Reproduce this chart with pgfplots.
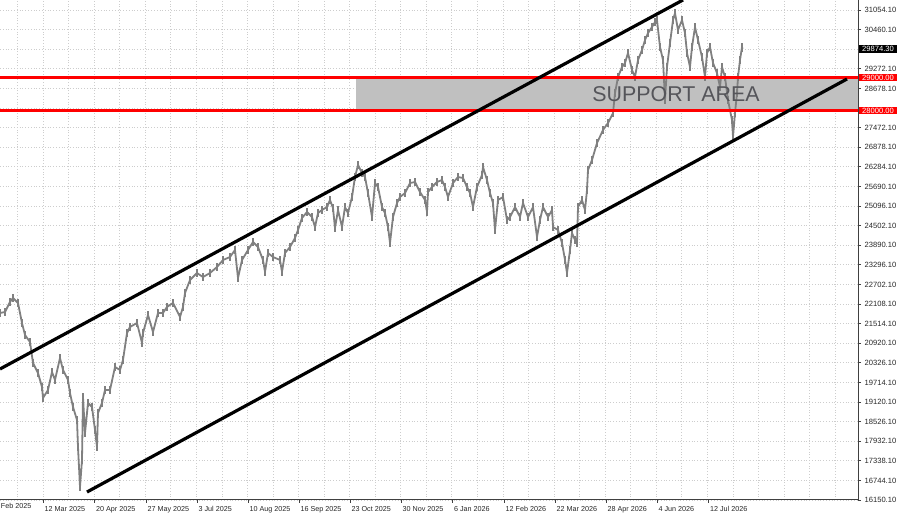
\documentclass[border=0pt]{standalone}
\usepackage{fontspec}
\setmainfont{Liberation Sans}
\usepackage{pgfplots}
\pgfplotsset{compat=1.18}

\definecolor{bargray}{RGB}{128,128,128}
\definecolor{zonegray}{RGB}{192,192,192}
\definecolor{gridgray}{RGB}{205,205,205}
\definecolor{mtred}{RGB}{255,0,0}
\definecolor{zonetext}{RGB}{85,85,90}

\begin{document}
\begin{tikzpicture}
\begin{axis}[
    scale only axis,
    width=429pt, height=250pt,
    xmin=0, xmax=858,
    ymin=16150, ymax=31360,
    axis x line=bottom, axis y line=right,
    axis line style={-, black!75, line width=0.5pt},
    tick align=outside,
    major tick length=1.5pt,
    minor tick length=0pt,
    tick style={black!75, line width=0.4pt},
    xtick={43,94.5,146,197,248,299,350,401,452.5,504,555,606,657,708.5},
    xticklabels={12 Mar 2025,20 Apr 2025,27 May 2025,3 Jul 2025,10 Aug 2025,16 Sep 2025,23 Oct 2025,30 Nov 2025,6 Jan 2026,12 Feb 2026,22 Mar 2026,28 Apr 2026,4 Jun 2026,12 Jul 2026},
    minor xtick={17.5,43.05,...,850},
    ytick={16150.1,16746.3,17342.4,17938.6,18534.7,19130.9,19727.1,20323.2,20919.4,21515.5,22111.7,22707.9,23304.0,23900.2,24496.3,25092.5,25688.7,26284.8,26881.0,27477.1,28073.3,28669.5,29265.6,29861.8,30457.9,31054.1},
    yticklabels={16150.10,16744.10,17338.10,17932.10,18526.10,19120.10,19714.10,20326.10,20920.10,21514.10,22108.10,22702.10,23296.10,23890.10,24502.10,25096.10,25690.10,26284.10,26878.10,27472.10,,28678.10,29272.10,,30460.10,31054.10},
    xminorgrids=true, xmajorgrids=false, ymajorgrids=true,
    grid style={gridgray, densely dotted, line width=0.4pt},
    minor grid style={gridgray, densely dotted, line width=0.4pt},
    xticklabel style={font=\fontsize{3.6}{4}\selectfont, anchor=north west, inner sep=0pt, xshift=0.6pt, yshift=-1.6pt, text=black!85},
    yticklabel style={font=\fontsize{3.8}{4}\selectfont, anchor=west, inner sep=0pt, xshift=1.6pt, text=black!85},
    clip=true,
]
% support zone
\fill[zonegray] (axis cs:356,28000) rectangle (axis cs:858,29000);

% price path (pixel-column index, price)
\addplot[bargray, line width=0.9pt, line join=round,
    error bars/.cd, y dir=both, y fixed=110,
    error bar style={bargray, line width=0.9pt}, error mark=none] coordinates {
(0,21839) (5,21869) (10,22173) (13,22295) (18,22143) (22,21534) (25,21169)
(30,20956) (33,20318) (38,20013) (42,19588) (43,19253) (48,19497) (52,20044)
(55,19801) (60,20470) (63,20105) (68,19801) (70,19405) (73,18979) (77,18584)
(78,17762) (80,16546) (82,17367) (83,19283) (85,18188) (88,19101) (92,18979)
(95,18280) (97,17762) (98,18797) (102,19101) (105,19497) (110,19497) (115,20196)
(120,20105) (123,20409) (127,21230) (130,21413) (137,21534) (142,20926) (143,21230)
(148,21778) (153,21261) (158,21839) (163,21839) (167,22021) (173,22143) (180,21717)
(183,22021) (185,22447) (190,22842) (197,23055) (203,22933) (210,23055) (217,23238)
(223,23450) (230,23542) (235,23755) (238,22903) (242,23450) (248,23755) (253,23998)
(258,23846) (263,23450) (265,23085) (268,23663) (273,23542) (280,23450) (282,23085)
(285,23663) (290,23846) (295,24120) (298,24363) (302,24728) (307,24911) (312,24759)
(315,24454) (318,24880) (322,24971) (327,25062) (330,25276) (333,25032) (335,24424)
(338,24971) (342,24454) (345,25062) (348,24880) (352,25367) (355,25975) (358,26340)
(362,26097) (365,25975) (368,25488) (372,24759) (375,25792) (378,25671) (382,25062)
(385,24880) (388,24454) (390,23968) (393,24759) (397,25184) (400,25367) (405,25488)
(410,25792) (415,25823) (420,25519) (425,25276) (427,24911) (428,25519) (432,25671)
(437,25823) (442,25884) (445,25671) (448,25367) (453,25792) (458,25975) (463,25945)
(467,25671) (470,25488) (473,25062) (477,25671) (482,26036) (483,26279) (487,25884)
(490,25488) (493,25184) (495,24363) (498,25276) (503,25367) (507,24667) (510,24759)
(515,25062) (520,24759) (523,25184) (528,24759) (533,25062) (537,24150) (540,24667)
(543,25062) (548,24759) (552,24971) (553,24454) (558,24363) (562,23968) (565,23451)
(567,23055) (570,23755) (572,24272) (575,24059) (577,23968) (578,25062) (582,25276)
(585,24971) (587,25580) (588,26188) (592,26492) (597,27009) (603,27405) (608,27617)
(613,27921) (615,28530) (618,29017) (622,29321) (625,29443) (628,29747) (632,29230)
(635,29017) (638,29534) (642,29838) (645,30142) (648,30355) (652,30537) (655,30690)
(657,30750) (660,29929) (663,29534) (665,28317) (667,29321) (670,30051) (673,30750)
(675,30963) (678,30446) (682,30750) (685,30355) (687,29747) (690,29321) (692,29929)
(695,30537) (698,30142) (702,29625) (705,29017) (707,29747) (710,29929) (713,29443)
(717,29138) (720,28712) (722,29321) (725,29017) (728,28317) (732,27709) (733,27192)
(735,27922) (737,28530) (738,29017) (740,29534) (742,29929) (742.5,29874)
};

% horizontal levels
\addplot[mtred, line width=1.3pt] coordinates {(0,29000) (858,29000)};
\addplot[mtred, line width=1.3pt] coordinates {(0,28000) (858,28000)};

% channel
\addplot[black, line width=1.6pt] coordinates {(0,20135) (683,31360)};
\addplot[black, line width=1.6pt] coordinates {(87,16393) (847,28957)};

\node[font=\fontsize{10.7}{12}\selectfont, text=zonetext] at (axis cs:676,28500) {SUPPORT AREA};
\end{axis}

% price-axis markers (y = (price-16150)/15210*250pt)
\begin{scope}[font=\fontsize{3.8}{4}\selectfont]
\node[fill=mtred, text=white, anchor=west, inner sep=0.5pt, minimum width=19pt] at (429.3pt,211.21pt) {29000.00};
\node[fill=mtred, text=white, anchor=west, inner sep=0.5pt, minimum width=19pt] at (429.3pt,194.77pt) {28000.00};
\node[fill=black, text=white, anchor=west, inner sep=0.5pt, minimum width=19pt] at (429.3pt,225.58pt) {29874.30};
\end{scope}
\node[font=\fontsize{3.6}{4}\selectfont, anchor=north west, inner sep=0pt, text=black!85] at (0.3pt,-1.6pt) {Feb 2025};

\pgfresetboundingbox
\useasboundingbox (0,-6.5pt) rectangle (450pt,250pt);
\end{tikzpicture}
\end{document}
